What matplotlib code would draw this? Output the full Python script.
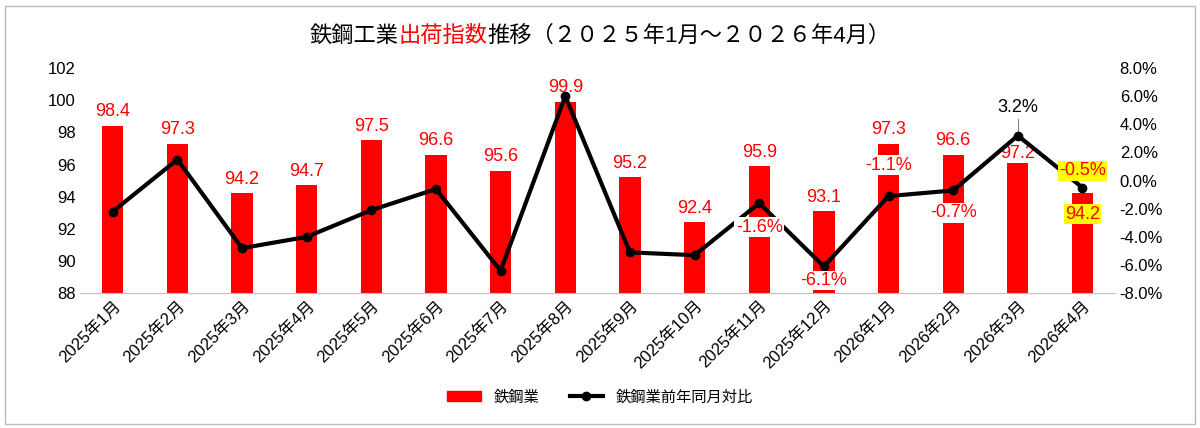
import matplotlib
matplotlib.use("Agg")
import matplotlib.pyplot as plt
from matplotlib.offsetbox import TextArea, HPacker, AnchoredOffsetbox
from matplotlib.lines import Line2D
from matplotlib.patches import Patch

plt.rcParams['font.family'] = ['Liberation Sans', 'Noto Sans CJK JP', 'DejaVu Sans']

months = ["2025年1月","2025年2月","2025年3月","2025年4月","2025年5月","2025年6月","2025年7月","2025年8月",
          "2025年9月","2025年10月","2025年11月","2025年12月","2026年1月","2026年2月","2026年3月","2026年4月"]
index_vals = [98.4,97.3,94.2,94.7,97.5,96.6,95.6,99.9,95.2,92.4,95.9,93.1,97.3,96.6,97.2,94.2]
yoy = [-2.2,1.5,-4.8,-4.0,-2.1,-0.6,-6.4,6.0,-5.1,-5.3,-1.6,-6.1,-1.1,-0.7,3.2,-0.5]

fig = plt.figure(figsize=(12,4.28), dpi=100)
fig.patches.append(plt.Rectangle((0.004,0.01),0.992,0.975,transform=fig.transFigure,fill=False,ec='#bbbbbb',lw=1))
ax = fig.add_axes([0.067,0.315,0.862,0.526])
x = list(range(len(months)))
ax.bar(x, index_vals, width=0.33, color='#ff0000', zorder=2)
ax.set_ylim(88,102)
ax.set_yticks(range(88,103,2))
ax.set_xlim(-0.5,15.5)
ax.set_xticks(x)
ax.set_xticklabels(months, rotation=45, ha='right', rotation_mode='anchor', fontsize=12)
ax.tick_params(axis='y', labelsize=12, length=0)
ax.tick_params(axis='x', length=0)
for s in ax.spines.values(): s.set_visible(False)
ax.spines['bottom'].set_visible(True); ax.spines['bottom'].set_color('#bfbfbf')

ax2 = ax.twinx()
ax2.plot(x, yoy, color='black', lw=3, marker='o', ms=6, zorder=5)
ax2.set_ylim(-8,8)
ax2.set_yticks(range(-8,9,2))
ax2.set_yticklabels([f"{v:.1f}%" for v in range(-8,9,2)], fontsize=12)
ax2.tick_params(axis='y', length=0)
for s in ax2.spines.values(): s.set_visible(False)

for i,v in enumerate(index_vals):
    if i in (14,15):
        continue
    ax.text(i, v+0.35, f"{v:.1f}", color='#ff0000', ha='center', va='bottom', fontsize=13, zorder=6,
            bbox=dict(fc='white', ec='none', pad=0.5) if i==7 else None)
ax.text(14, 96.7, "97.2", color='#ff0000', ha='center', va='center', fontsize=13, zorder=6,
        bbox=dict(fc='white', ec='none', pad=1))
ax.text(15, 92.9, "94.2", color='#ff0000', ha='center', va='center', fontsize=13, zorder=6,
        bbox=dict(fc='#ffff00', ec='none', pad=1))

ll = {10:(-1.6,-3.3,'white','#ff0000'),11:(-6.1,-7.1,'white','#ff0000'),12:(-1.1,1.1,'white','#ff0000'),
      13:(-0.7,-2.3,'white','#ff0000'),14:(3.2,5.2,'white','black'),15:(-0.5,0.7,'#ffff00','#ff0000')}
for i,(v,ypos,bg,c) in ll.items():
    ax2.text(i, ypos, f"{v:.1f}%", color=c, ha='center', va='center', fontsize=13, zorder=7,
             bbox=dict(fc=bg, ec='none', pad=1))
ax2.plot([14,14.0],[3.4,4.4], color='#888888', lw=0.8)

parts = [TextArea("鉄鋼工業", textprops=dict(color='black', fontsize=16)),
         TextArea("出荷指数", textprops=dict(color='#ff0000', fontsize=16)),
         TextArea("推移（２０２５年1月～２０２６年4月）", textprops=dict(color='black', fontsize=16))]
box = HPacker(children=parts, pad=0, sep=0, align='baseline')
ab = AnchoredOffsetbox(loc='center', child=box, frameon=False, bbox_to_anchor=(0.5,0.915), bbox_transform=fig.transFigure)
fig.add_artist(ab)

handles = [Patch(color='#ff0000', label='鉄鋼業'),
           Line2D([],[],color='black',lw=3,marker='o',ms=6,label='鉄鋼業前年同月対比')]
fig.legend(handles=handles, loc='center', bbox_to_anchor=(0.5,0.072), ncol=2, frameon=False, fontsize=11,
           handlelength=2.2)

fig.savefig("out.png", dpi=100)
